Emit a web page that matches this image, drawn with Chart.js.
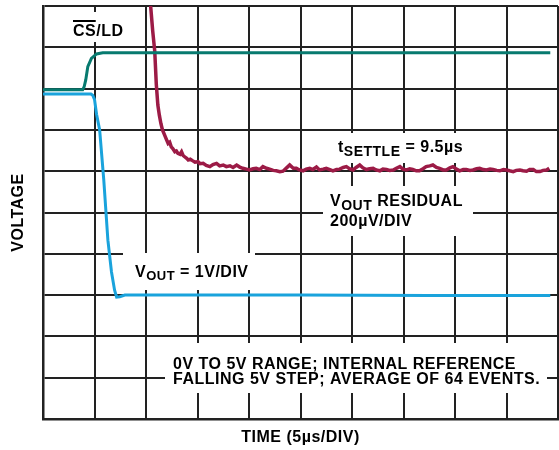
<!DOCTYPE html>
<html>
<head>
<meta charset="utf-8">
<script src="https://cdn.jsdelivr.net/npm/chart.js@4.4.1/dist/chart.umd.min.js"></script>
<style>
  html, body { margin: 0; padding: 0; background: #fff; }
  canvas { display: block; }
</style>
</head>
<body>
<canvas id="scope" width="559" height="450"></canvas>
<script>
// scope trace, x in divisions (5us/div), y in divisions (0 = bottom of screen)
const csldT = [0, 0.77, 0.80, 0.83, 0.87, 0.94, 1.04, 1.16, 9.85];
const csldV = [7.97, 7.97, 8.05, 8.21, 8.53, 8.73, 8.84, 8.87, 8.87];

const voutT = [0, 0.93, 0.965, 1.00, 1.04, 1.10, 1.18, 1.26, 1.33, 1.39, 1.43, 1.49, 1.59, 2.5, 5, 7.5, 9.85];
const voutV = [7.87, 7.87, 7.84, 7.74, 7.38, 7.0, 5.79, 4.33, 3.56, 3.12, 2.95, 2.96, 3.0, 3.0, 3.0, 2.99, 2.99];

const residT = [
  2.04, 2.09, 2.13, 2.17, 2.20, 2.23, 2.26, 2.29, 2.32, 2.36,
  2.40, 2.43, 2.46, 2.49, 2.52, 2.56, 2.59, 2.62, 2.66, 2.69,
  2.72, 2.75, 2.79, 2.82, 2.86, 2.91, 2.95, 3.01, 3.05, 3.11,
  3.17, 3.24, 3.30, 3.37, 3.43, 3.50, 3.56, 3.63, 3.69, 3.76,
  3.82, 3.88, 3.95, 4.01, 4.08, 4.14, 4.21, 4.27, 4.34, 4.40,
  4.47, 4.53, 4.60, 4.66, 4.73, 4.79, 4.86, 4.92, 4.98, 5.05,
  5.11, 5.18, 5.24, 5.31, 5.37, 5.44, 5.50, 5.57, 5.63, 5.70,
  5.76, 5.83, 5.89, 5.95, 6.02, 6.08, 6.15, 6.21, 6.28, 6.34,
  6.41, 6.47, 6.54, 6.60, 6.67, 6.73, 6.80, 6.86, 6.93, 6.99,
  7.06, 7.12, 7.18, 7.25, 7.31, 7.38, 7.44, 7.51, 7.57, 7.64,
  7.70, 7.77, 7.83, 7.90, 7.96, 8.03, 8.09, 8.16, 8.22, 8.29,
  8.35, 8.42, 8.48, 8.55, 8.61, 8.68, 8.74, 8.81, 8.87, 8.94,
  9.00, 9.06, 9.13, 9.19, 9.26, 9.32, 9.39, 9.45, 9.52, 9.58,
  9.65, 9.71, 9.78, 9.83
];
const residV = [
  10.6, 10.0, 9.4, 8.9, 8.1, 7.6, 7.35, 7.15, 7.0, 6.88,
  6.76, 6.67, 6.70, 6.59, 6.55, 6.47, 6.49, 6.43, 6.41, 6.47,
  6.38, 6.35, 6.31, 6.27, 6.29, 6.25, 6.22, 6.23, 6.18, 6.19,
  6.14, 6.11, 6.16, 6.19, 6.13, 6.15, 6.11, 6.13, 6.09, 6.15,
  6.10, 6.07, 6.05, 6.03, 6.06, 6.07, 6.04, 6.11, 6.07, 6.05,
  6.02, 6.01, 5.99, 6.00, 6.08, 6.15, 6.07, 6.07, 6.03, 6.01,
  6.05, 6.07, 6.04, 6.10, 6.03, 6.05, 6.07, 6.04, 6.01, 6.04,
  6.05, 6.09, 6.11, 6.06, 6.03, 6.09, 6.15, 6.08, 6.04, 6.06,
  6.07, 6.03, 6.01, 6.05, 6.04, 6.02, 6.03, 6.07, 6.11, 6.05,
  6.03, 6.06, 6.04, 6.01, 6.01, 6.06, 6.11, 6.13, 6.15, 6.09,
  6.07, 6.03, 6.03, 6.08, 6.11, 6.05, 6.01, 6.04, 6.04, 6.02,
  6.03, 6.06, 6.07, 6.04, 6.03, 6.05, 6.04, 6.02, 6.01, 6.04,
  6.03, 6.01, 5.99, 6.02, 6.03, 6.01, 6.00, 6.04, 6.04, 5.99,
  5.99, 6.02, 6.03, 6.07
];

const divTicks = [0, 1, 2, 3, 4, 5, 6, 7, 8, 9, 10];

const FONT = "'Liberation Sans', Arial, sans-serif";

function pts(t, v) {
  return t.map((x, i) => ({ x: x, y: v[i] }));
}

// draws pieces of text one after another (for subscripts)
function runs(ctx, x, y, parts) {
  for (const p of parts) {
    ctx.font = 'bold ' + p.size + 'px ' + FONT;
    ctx.fillText(p.text, x, y + (p.dy || 0));
    x += ctx.measureText(p.text).width;
  }
  return x;
}

const labels = {
  id: 'labels',
  beforeDraw(chart) {
    chart.ctx.letterSpacing = '0.5px';
  },
  beforeDatasetsDraw(chart) {
    const ctx = chart.ctx;
    ctx.save();
    ctx.letterSpacing = '0.5px';
    ctx.fillStyle = '#fff';
    ctx.fillRect(66, 12, 62, 30);
    ctx.fillRect(330, 133, 142, 30);
    ctx.fillRect(323, 186, 150, 50);
    ctx.fillRect(123, 253, 132, 37);
    ctx.fillRect(165, 343, 382, 50);

    ctx.fillStyle = '#000';
    ctx.textBaseline = 'alphabetic';
    const big = 16, small = 14;

    const csEnd = runs(ctx, 73, 36, [{ text: 'CS', size: big }]);
    runs(ctx, csEnd, 36, [{ text: '/LD', size: big }]);
    ctx.fillRect(73, 20, csEnd - 73 - 0.5, 2);

    runs(ctx, 338, 152, [
      { text: 't', size: big },
      { text: 'SETTLE', size: small, dy: 4 },
      { text: ' = 9.5µs', size: big }
    ]);
    runs(ctx, 330, 206, [
      { text: 'V', size: big },
      { text: 'OUT', size: small, dy: 4 },
      { text: ' RESIDUAL', size: big }
    ]);
    runs(ctx, 330, 226, [{ text: '200µV/DIV', size: big }]);
    runs(ctx, 135, 277, [
      { text: 'V', size: big },
      { text: 'OUT', size: 13, dy: 3 },
      { text: ' = 1V/DIV', size: big }
    ]);
    runs(ctx, 173, 369, [{ text: '0V TO 5V RANGE; INTERNAL REFERENCE', size: big }]);
    runs(ctx, 173, 384, [{ text: 'FALLING 5V STEP; AVERAGE OF 64 EVENTS.', size: big }]);
    ctx.restore();
  }
};

const gridOpts = { color: '#222', lineWidth: 2, drawTicks: false };
const borderOpts = { display: true, color: '#222', width: 2.5 };

new Chart(document.getElementById('scope'), {
  type: 'line',
  data: {
    datasets: [
      { data: pts(csldT, csldV), borderColor: '#077a6f', borderWidth: 3, pointRadius: 0 },
      { data: pts(voutT, voutV), borderColor: '#1aa3dc', borderWidth: 3, pointRadius: 0 },
      { data: pts(residT, residV), borderColor: '#9c1b46', borderWidth: 3.5, pointRadius: 0, clip: 0 }
    ]
  },
  options: {
    responsive: false,
    animation: false,
    events: [],
    layout: { padding: { top: 6, right: 1, left: 0, bottom: 0 } },
    plugins: { legend: { display: false }, tooltip: { enabled: false } },
    scales: {
      x: {
        type: 'linear', min: 0, max: 10,
        afterBuildTicks: s => { s.ticks = divTicks.map(v => ({ value: v })); },
        afterFit: s => { s.height = 31; },
        ticks: { display: false },
        grid: gridOpts, border: borderOpts,
        title: { display: true, text: 'TIME (5µs/DIV)', color: '#000',
          font: { family: FONT, size: 16, weight: 'bold' }, padding: { top: 0, bottom: 2.4 } }
      },
      y: {
        type: 'linear', min: 0, max: 10,
        afterBuildTicks: s => { s.ticks = divTicks.map(v => ({ value: v })); },
        afterFit: s => { s.width = 43; },
        ticks: { display: false },
        grid: gridOpts, border: borderOpts,
        title: { display: true, text: 'VOLTAGE', color: '#000',
          font: { family: FONT, size: 16, weight: 'bold' }, padding: { top: 9.4, bottom: 0 } }
      }
    }
  },
  plugins: [labels]
});
</script>
</body>
</html>
